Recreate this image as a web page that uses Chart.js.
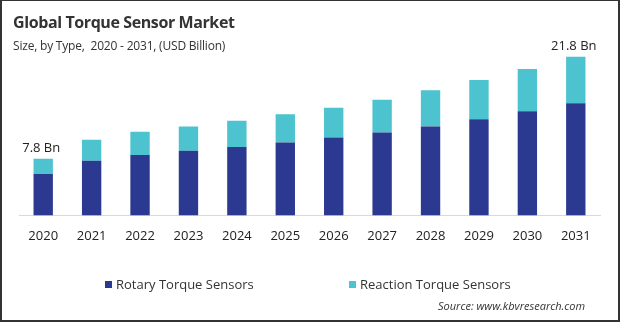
<!DOCTYPE html>
<html>
<head>
<meta charset="utf-8">
<script src="https://cdn.jsdelivr.net/npm/chart.js@4.4.1/dist/chart.umd.min.js"></script>
<style>
html,body{margin:0;padding:0;background:#fff;}
#frame{position:relative;width:620px;height:322px;box-sizing:border-box;
  border-top:1px solid #333;border-left:2px solid #333;border-right:2px solid #333;border-bottom:2px solid #333;
  font-family:"Open Sans",sans-serif;overflow:hidden;}
#wrap{position:absolute;left:-2px;top:-1px;width:620px;height:322px;}
.title{position:absolute;left:11px;top:10px;font-size:16px;font-weight:700;color:#333;letter-spacing:-0.4px;}
.sub{position:absolute;left:11px;top:36px;font-size:12px;color:#333;letter-spacing:-0.2px;}
.legend{position:absolute;top:274px;font-size:13px;color:#333;}
.legend span.box{display:inline-block;width:7px;height:7px;margin-right:4px;vertical-align:1px;}
.source{position:absolute;left:436px;top:297px;font-size:11px;font-style:italic;color:#333;}
</style>
</head>
<body>
<div id="frame">
<div id="wrap"><canvas id="torqueChart" width="620" height="322"></canvas></div>
<div class="title">Global Torque Sensor Market</div>
<div class="sub">Size, by Type,&nbsp; 2020 - 2031, (USD Billion)</div>
<div class="legend" style="left:103px"><span class="box" style="background:#2B3990"></span>Rotary Torque Sensors</div>
<div class="legend" style="left:347px"><span class="box" style="background:#4CC3CE"></span>Reaction Torque Sensors</div>
<div class="source">Source: www.kbvresearch.com</div>
</div>

<script>
/* =========================
   DATA
========================= */

const years = ["2020","2021","2022","2023","2024","2025","2026","2027","2028","2029","2030","2031"]
const rotary = [5.7,7.5,8.3,8.9,9.4,10.0,10.7,11.4,12.2,13.2,14.3,15.4]
const reaction = [2.1,2.9,3.2,3.3,3.6,3.9,4.1,4.5,5.0,5.4,5.8,6.4]
const labelled = [0,11]

/* total labels above first and last bar */

const totalLabels = {
id:"totalLabels",
afterDatasetsDraw(chart){
const ctx = chart.ctx
const x = chart.scales.x
const y = chart.scales.y
ctx.save()
ctx.font = "13px 'Open Sans'"
ctx.fillStyle = "#222"
ctx.textAlign = "center"
ctx.textBaseline = "middle"
labelled.forEach(i=>{
const total = rotary[i] + reaction[i]
ctx.fillText(total.toFixed(1) + " Bn", x.getPixelForValue(i) - 2, y.getPixelForValue(total) - 10)
})
ctx.restore()
}
}

new Chart(document.getElementById("torqueChart"),{
type:"bar",
data:{
labels:years,
datasets:[
{label:"Rotary Torque Sensors",data:rotary,backgroundColor:"#2B3990"},
{label:"Reaction Torque Sensors",data:reaction,backgroundColor:"#4CC3CE"}
]
},
options:{
responsive:false,
animation:false,
layout:{padding:{left:19,right:20,top:40,bottom:73}},
plugins:{legend:{display:false},tooltip:{enabled:false}},
datasets:{bar:{categoryPercentage:1,barPercentage:0.4}},
scales:{
x:{
stacked:true,
grid:{display:false},
border:{display:true,color:"#d9d9d9",width:1},
ticks:{padding:5,color:"#222",font:{family:"Open Sans",size:13}}
},
y:{
stacked:true,
display:false,
min:0,
max:24.1
}
}
},
plugins:[totalLabels]
})
</script>
</body>
</html>
